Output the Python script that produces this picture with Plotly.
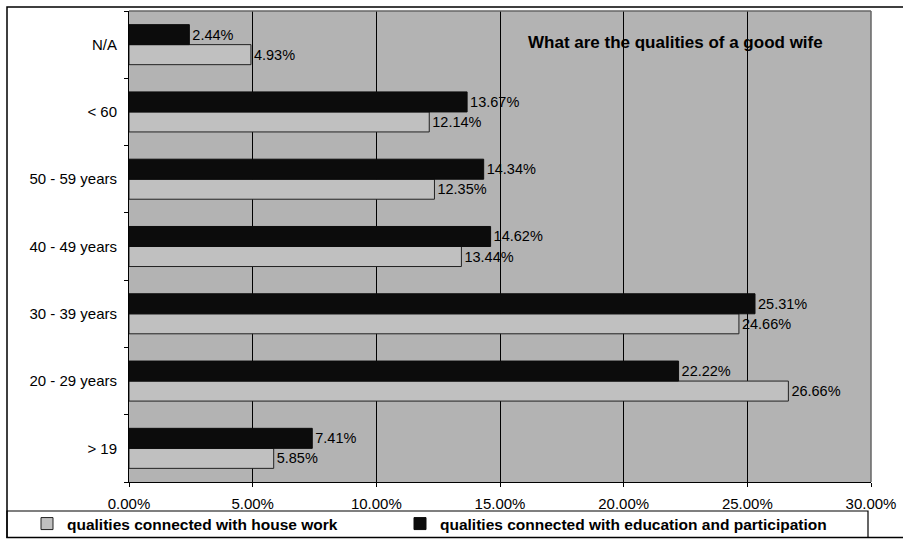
import plotly.graph_objects as go

categories = ["> 19", "20 - 29 years", "30 - 39 years", "40 - 49 years", "50 - 59 years", "< 60", "N/A"]
house_work = [5.85, 26.66, 24.66, 13.44, 12.35, 12.14, 4.93]
education = [7.41, 22.22, 25.31, 14.62, 14.34, 13.67, 2.44]
x_ticks = [0, 0.05, 0.10, 0.15, 0.20, 0.25, 0.30]
title_text = "What are the qualities of a good wife"

FONT = "Liberation Sans, Arial, sans-serif"
W, H = 903, 539
L, R, T, B = 129, 871, 11, 482

def px_x(p):
    return (p - L) / (R - L)

def px_y(p):
    return (B - p) / (B - T)

fig = go.Figure()
fig.add_trace(go.Bar(
    y=categories, x=[v / 100 for v in house_work], orientation="h",
    name="qualities connected with house work", legend="legend",
    marker=dict(color="#C0C0C0", line=dict(color="#222222", width=1)),
    text=[f"{v:.2f}%" for v in house_work], textposition="outside",
    textfont=dict(family=FONT, size=14.5, color="#000000"), cliponaxis=False,
))
fig.add_trace(go.Bar(
    y=categories, x=[v / 100 for v in education], orientation="h",
    name="qualities connected with education and participation", legend="legend2",
    marker=dict(color="#0C0C0C", line=dict(color="#0C0C0C", width=1)),
    text=[f"{v:.2f}%" for v in education], textposition="outside",
    textfont=dict(family=FONT, size=14.5, color="#000000"), cliponaxis=False,
))

legend_common = dict(
    orientation="h", yanchor="top", xanchor="left",
    bgcolor="rgba(0,0,0,0)", borderwidth=0,
    font=dict(family=FONT, size=15.5, color="#000000", weight="bold"),
    itemwidth=30,
)

fig.update_layout(
    width=W, height=H,
    margin=dict(l=L, r=W - R, t=T, b=H - B, autoexpand=False),
    paper_bgcolor="#FFFFFF", plot_bgcolor="#B3B3B3",
    barmode="group", bargap=0.405, bargroupgap=0,
    font=dict(family=FONT, size=15, color="#000000"),
    xaxis=dict(
        range=[0, 0.30], tickvals=x_ticks, tickformat=".2%",
        showgrid=True, gridcolor="#000000", gridwidth=1,
        zeroline=False, showline=True, linecolor="#000000", linewidth=1,
        ticks="outside", ticklen=4, tickcolor="#000000",
        ticklabelstandoff=4,
        tickfont=dict(family=FONT, size=15, color="#000000"),
    ),
    yaxis=dict(
        categoryorder="array", categoryarray=categories,
        showgrid=False, zeroline=False, showline=True, linecolor="#000000", linewidth=1,
        ticks="outside", ticklen=4, tickcolor="#000000", tickson="boundaries",
        ticklabelstandoff=8,
        tickfont=dict(family=FONT, size=15, color="#000000"),
    ),
    showlegend=True,
    legend=dict(x=px_x(27), y=px_y(507), **legend_common),
    legend2=dict(x=px_x(400), y=px_y(507), **legend_common),
    annotations=[dict(
        text="<b>" + title_text + "</b>", xref="paper", yref="paper",
        x=px_x(675), y=px_y(43), xanchor="center", yanchor="middle",
        showarrow=False, font=dict(family=FONT, size=17, color="#000000"),
    )],
    shapes=[
        dict(type="line", xref="paper", yref="paper", x0=0, x1=1, y0=1, y1=1,
             line=dict(color="#666666", width=1.5)),
        dict(type="line", xref="paper", yref="paper", x0=1, x1=1, y0=0, y1=1,
             line=dict(color="#666666", width=1.5)),
        dict(type="rect", xref="paper", yref="paper",
             x0=px_x(7), x1=px_x(920), y0=px_y(7), y1=px_y(537.5),
             line=dict(color="#000000", width=1.5), layer="above"),
        dict(type="rect", xref="paper", yref="paper",
             x0=px_x(7), x1=px_x(868), y0=px_y(511), y1=px_y(537.5),
             line=dict(color="#000000", width=1.2), layer="above"),
    ],
)

fig.write_html("out.html")
